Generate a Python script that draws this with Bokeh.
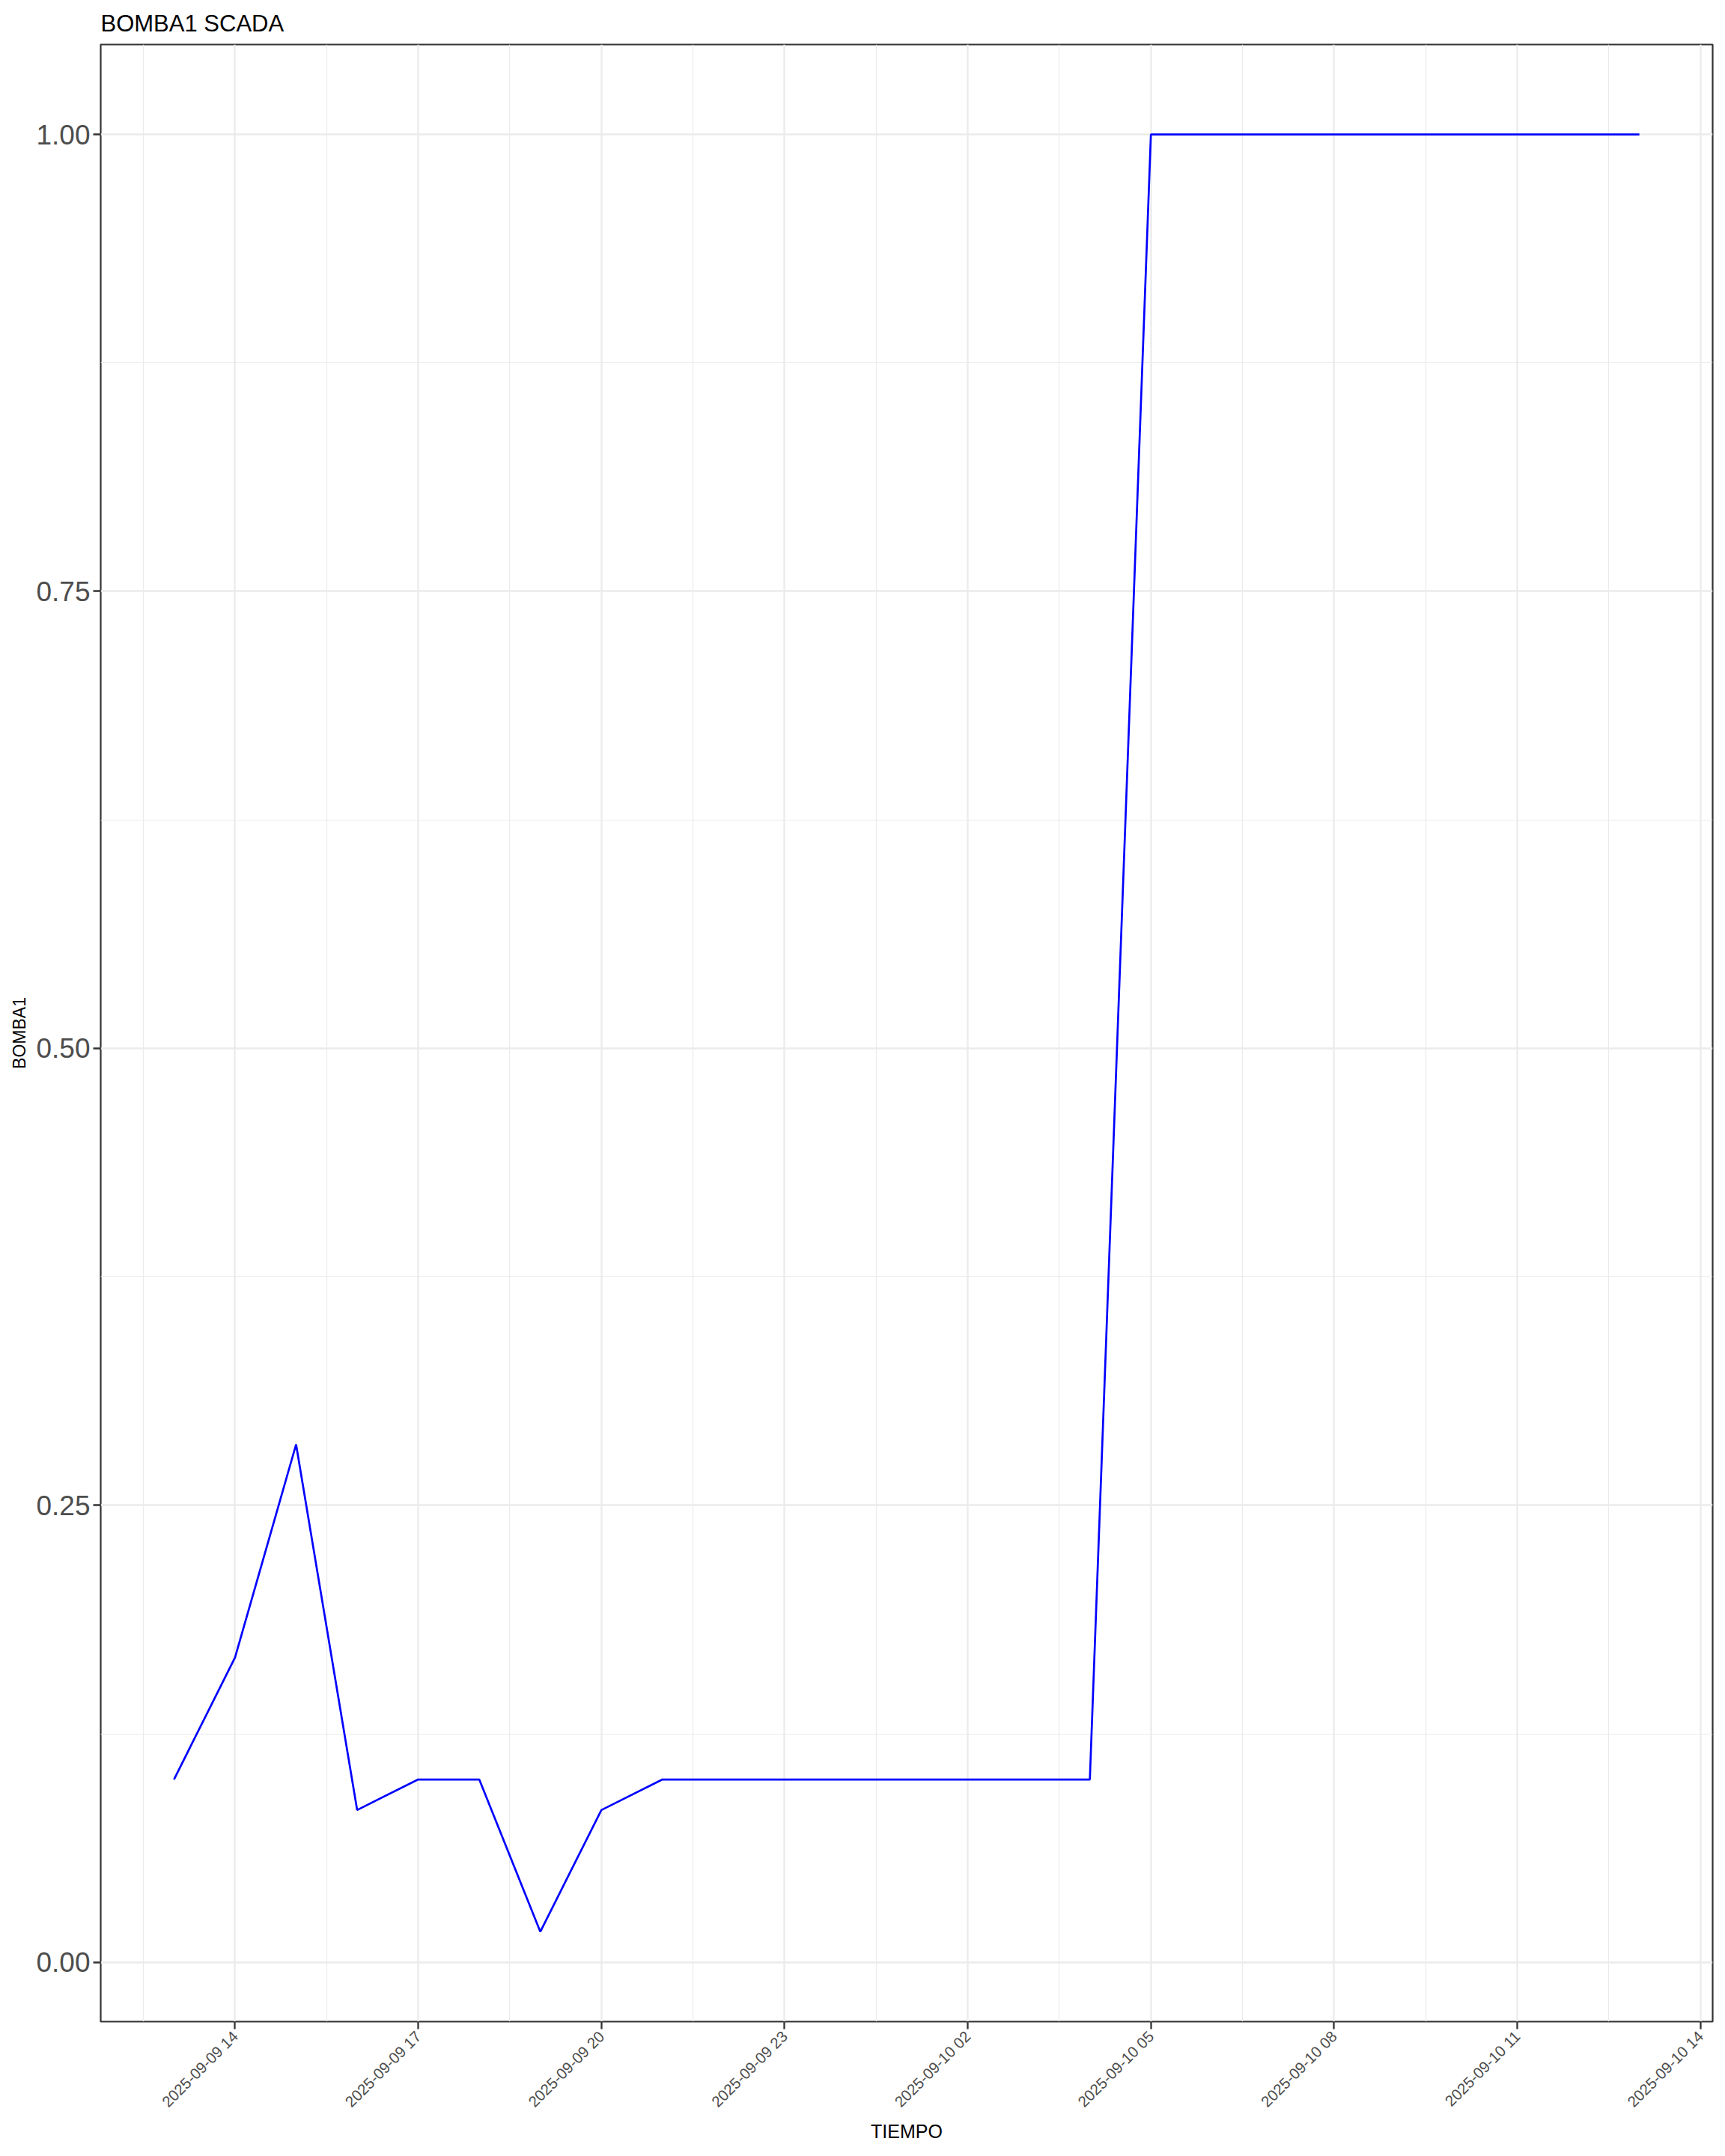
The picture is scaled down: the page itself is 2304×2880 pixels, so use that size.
import pandas as pd
from math import pi
from bokeh.plotting import figure
from bokeh.models import Range1d, FixedTicker, ColumnDataSource
from bokeh.embed import file_html
from bokeh.resources import INLINE

# ---- data ----
tiempo = [
    "2025-09-09 13:00", "2025-09-09 14:00", "2025-09-09 15:00", "2025-09-09 16:00",
    "2025-09-09 17:00", "2025-09-09 18:00", "2025-09-09 19:00", "2025-09-09 20:00",
    "2025-09-09 21:00", "2025-09-09 22:00", "2025-09-09 23:00", "2025-09-10 00:00",
    "2025-09-10 01:00", "2025-09-10 02:00", "2025-09-10 03:00", "2025-09-10 04:00",
    "2025-09-10 05:00", "2025-09-10 06:00", "2025-09-10 07:00", "2025-09-10 08:00",
    "2025-09-10 09:00", "2025-09-10 10:00", "2025-09-10 11:00", "2025-09-10 12:00",
    "2025-09-10 13:00",
]
bomba1 = [
    0.1000, 0.1667, 0.2833, 0.0833,
    0.1000, 0.1000, 0.0167, 0.0833,
    0.1000, 0.1000, 0.1000, 0.1000,
    0.1000, 0.1000, 0.1000, 0.1000,
    1.0000, 1.0000, 1.0000, 1.0000,
    1.0000, 1.0000, 1.0000, 1.0000,
    1.0000,
]
x_tick_labels = [
    "2025-09-09 14", "2025-09-09 17", "2025-09-09 20", "2025-09-09 23",
    "2025-09-10 02", "2025-09-10 05", "2025-09-10 08", "2025-09-10 11",
    "2025-09-10 14",
]
y_ticks = [0.0, 0.25, 0.50, 0.75, 1.0]
y_tick_labels = ["0.00", "0.25", "0.50", "0.75", "1.00"]

# ---- derived ----
t = pd.to_datetime(tiempo)
src = ColumnDataSource(dict(x=t, y=bomba1))

HOUR = 3600 * 1000
x_ticks_ms = [int(v) // 10**6 for v in pd.to_datetime(x_tick_labels, format="%Y-%m-%d %H").asi8]
x_minor = [v - 1.5 * HOUR for v in x_ticks_ms]
y_minor = [v - 0.125 for v in y_ticks[1:]]

t_ms = [int(v) // 10**6 for v in t.asi8]
span = t_ms[-1] - t_ms[0]
x0, x1 = t_ms[0] - 0.05 * span, t_ms[-1] + 0.05 * span
yr = max(bomba1) - min(bomba1)
y0, y1 = min(bomba1) - 0.05 * yr, max(bomba1) + 0.05 * yr

FONT = "Liberation Sans"
GRID = "#EBEBEB"
DARK = "#333333"

p = figure(
    width=2295, height=2864,
    x_axis_type="datetime",
    x_range=Range1d(x0, x1), y_range=Range1d(y0, y1),
    output_backend="svg", toolbar_location=None,
    title="BOMBA1 SCADA",
    min_border_left=134, min_border_right=8, min_border_top=0, min_border_bottom=155,
)
p.background_fill_color = "white"
p.border_fill_color = "white"
p.outline_line_color = DARK
p.outline_line_width = 2.2

p.title.text_font = FONT
p.title.text_font_size = "31px"
p.title.text_font_style = "normal"
p.title.text_color = "black"
p.title.align = "left"
p.title.standoff = 22

p.line("x", "y", source=src, line_color="#0000FF", line_width=2.7)

# x axis
xa = p.xaxis[0]
xa.ticker = FixedTicker(ticks=x_ticks_ms, minor_ticks=x_minor)
xa.major_label_overrides = {v: s for v, s in zip(x_ticks_ms, x_tick_labels)}
xa.major_label_orientation = pi / 4
xa.major_label_text_font = FONT
xa.major_label_text_font_size = "20.5px"
xa.major_label_text_color = "#4D4D4D"
xa.major_label_standoff = 6
xa.axis_label = "TIEMPO"
xa.axis_label_text_font = FONT
xa.axis_label_text_font_size = "25px"
xa.axis_label_text_font_style = "normal"
xa.axis_label_text_color = "black"
xa.axis_label_standoff = 3

# y axis
ya = p.yaxis[0]
ya.ticker = FixedTicker(ticks=y_ticks, minor_ticks=y_minor)
ya.major_label_overrides = {v: s for v, s in zip(y_ticks, y_tick_labels)}
ya.major_label_text_font = FONT
ya.major_label_text_font_size = "37px"
ya.major_label_text_color = "#4D4D4D"
ya.major_label_standoff = 4
ya.axis_label = "BOMBA1"
ya.axis_label_text_font = FONT
ya.axis_label_text_font_size = "23px"
ya.axis_label_text_font_style = "normal"
ya.axis_label_text_color = "black"
ya.axis_label_standoff = 6

for ax in (xa, ya):
    ax.axis_line_color = None
    ax.major_tick_line_color = DARK
    ax.major_tick_line_width = 2.3
    ax.major_tick_out = 10
    ax.major_tick_in = 0
    ax.minor_tick_line_color = None

for g in (p.xgrid[0], p.ygrid[0]):
    g.grid_line_color = GRID
    g.grid_line_width = 2.3
    g.minor_grid_line_color = GRID
    g.minor_grid_line_width = 1.2

open("out.html", "w").write(file_html(p, INLINE))
